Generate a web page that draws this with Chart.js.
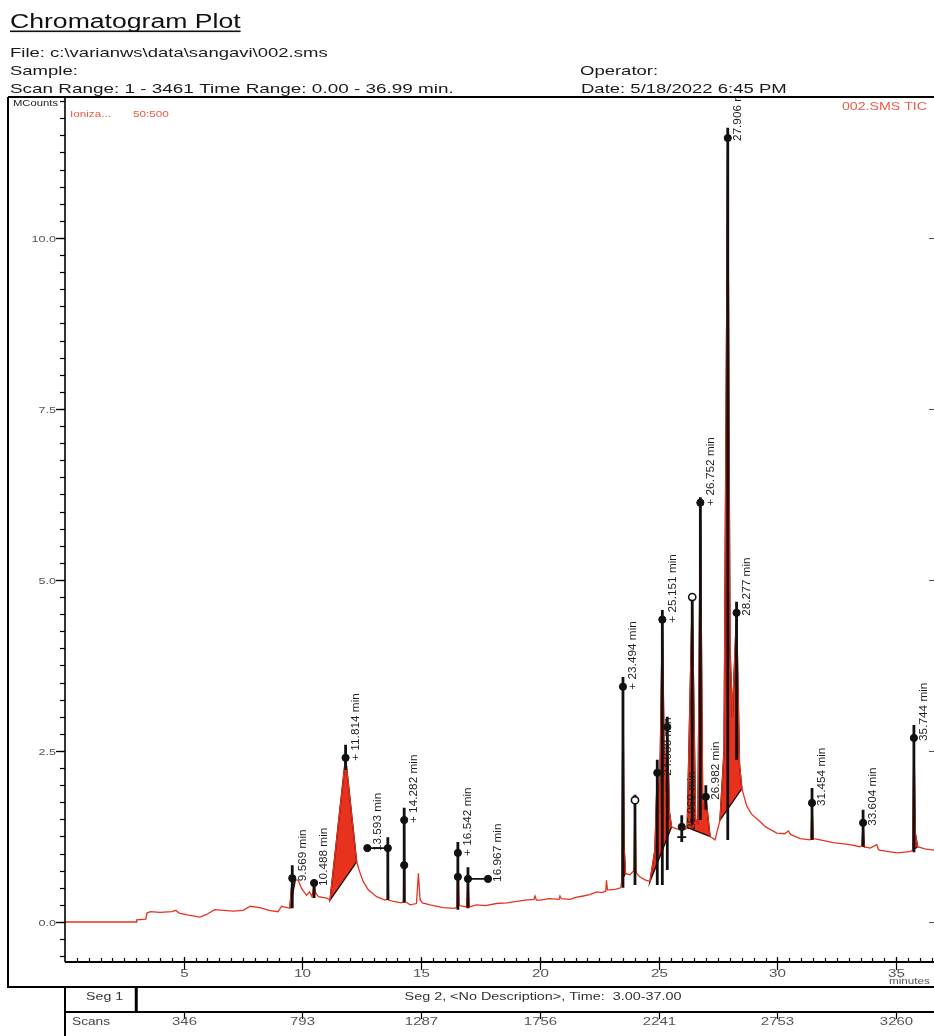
<!DOCTYPE html>
<html><head><meta charset="utf-8">
<script src="https://cdn.jsdelivr.net/npm/chart.js@4.4.1/dist/chart.umd.min.js"></script>
<style>html,body{margin:0;padding:0;background:#fff;overflow:hidden}canvas{display:block}</style>
</head><body>
<canvas id="c" width="934" height="1036"></canvas>
<script>
// ---------- DATA ----------
const timeMin = [
 0.00,3.00,3.02,3.40,3.45,3.60,4.00,4.50,4.67,4.80,
 5.20,5.68,5.96,6.30,6.70,7.07,7.50,7.80,8.20,8.60,
 8.97,9.12,9.47,9.569,9.70,9.82,9.96,10.17,10.30,10.40,
 10.488,10.56,10.67,11.02,11.16,11.814,12.28,12.40,12.56,12.77,
 13.12,13.47,13.56,13.593,13.63,13.82,14.17,14.25,14.282,14.32,
 14.53,14.80,14.88,14.95,15.05,15.37,15.93,16.42,16.50,16.542,
 16.60,16.90,16.967,17.03,17.33,17.70,18.17,18.60,19.02,19.37,
 19.75,19.79,19.85,20.00,20.40,20.80,20.84,20.90,21.26,21.50,
 21.82,22.10,22.39,22.60,22.77,22.80,22.84,22.95,23.20,23.40,
 23.45,23.494,23.54,23.60,23.79,23.95,24.00,24.05,24.20,24.40,
 24.63,24.84,24.938,25.03,25.151,25.25,25.36,25.45,25.54,25.75,
 25.90,25.969,26.10,26.20,26.41,26.55,26.65,26.752,26.85,26.982,
 27.16,27.37,27.58,27.75,27.906,28.00,28.10,28.277,28.40,28.50,
 28.70,28.90,29.26,29.50,29.97,30.30,30.46,30.55,30.95,31.37,
 31.42,31.454,31.50,31.80,32.35,33.05,33.47,33.56,33.604,33.65,
 33.90,34.18,34.25,34.30,35.02,35.58,35.70,35.744,35.80,35.90,
 36.20,36.60];
const mCounts = [
 0.00,0.00,0.03,0.04,0.13,0.15,0.14,0.15,0.17,0.13,
 0.10,0.07,0.11,0.18,0.17,0.16,0.17,0.23,0.21,0.17,
 0.15,0.23,0.20,0.64,0.62,0.61,0.49,0.39,0.44,0.37,
 0.56,0.42,0.37,0.35,0.32,2.40,0.88,0.74,0.59,0.47,
 0.37,0.32,0.33,1.08,0.32,0.30,0.28,0.30,1.49,0.30,
 0.25,0.27,0.71,0.33,0.28,0.25,0.21,0.20,0.22,1.01,
 0.24,0.22,0.63,0.22,0.25,0.24,0.27,0.28,0.30,0.32,
 0.33,0.38,0.32,0.32,0.34,0.33,0.38,0.34,0.33,0.36,
 0.38,0.40,0.44,0.43,0.45,0.61,0.47,0.47,0.48,0.50,
 0.62,3.44,1.10,0.71,0.69,0.75,1.78,0.72,0.66,0.62,
 0.59,1.05,2.18,1.60,4.42,1.90,2.85,1.60,1.39,1.36,
 1.35,1.39,1.35,1.38,4.75,1.50,1.45,6.13,1.70,1.83,
 1.25,1.20,1.49,2.50,11.46,4.00,3.00,4.52,2.30,1.95,
 1.70,1.58,1.47,1.39,1.30,1.29,1.33,1.28,1.22,1.20,
 1.24,1.74,1.22,1.20,1.16,1.13,1.10,1.12,1.45,1.10,
 1.08,1.13,1.06,1.05,1.01,1.03,1.05,2.69,1.30,1.10,
 1.07,1.05];

// integrated peak regions (time range of each red area)
const fillStart = [9.47, 11.16, 23.45, 24.63, 26.20, 27.58, 31.42, 33.56, 35.70];
const fillEnd   = [9.70, 12.28, 23.60, 25.54, 27.16, 28.50, 31.50, 33.65, 35.90];

// peak markers
const peakTime   = [9.569,10.488,11.814,13.593,14.282,16.542,16.967,23.494,24.000,24.938,25.151,25.360,25.969,26.410,26.752,26.982,27.906,28.277,31.454,33.604,35.744];
const peakApex   = [0.64, 0.57, 2.40, 1.08, 1.49, 1.01, 0.63, 3.44, 1.78, 2.18, 4.42, 2.85, 1.39, 4.75, 6.13, 1.83, 11.46, 4.52, 1.74, 1.45, 2.69];
const peakTop    = [0.83, 0.61, 2.59, 1.24, 1.67, 1.17, 0.80, 3.58, 1.86, 2.37, 4.56, 3.00, 1.56, 4.80, 6.21, 2.00, 11.61, 4.68, 1.96, 1.64, 2.88];
const peakBottom = [0.20, 0.35, 2.22, 0.32, 0.28, 0.18, 0.20, 0.50, 0.54, 0.54, 0.54, 0.76, 1.17, 1.42, 1.49, 1.64, 1.20, 2.37, 1.20, 1.10, 1.02];
const peakLabel  = ['9.569 min','10.488 min','+ 11.814 min','13.593 min','+ 14.282 min','+ 16.542 min','16.967 min','+ 23.494 min','','24.938 min','+ 25.151 min','','25.969 min','','+ 26.752 min','26.982 min','27.906 min','28.277 min','31.454 min','33.604 min','35.744 min'];
const peakMarker = ['dot','dot','dot','dot','dot','dot','dot','dot','open','dot','dot','dot','dot','open','dot','dot','dot','dot','dot','dot','dot'];
const peakLeaderTo = [null,null,null,12.73,null,null,17.81,null,null,null,null,null,null,null,null,null,null,null,null,null,null];
const extraMarkTime  = [14.282, 16.542];
const extraMarkValue = [0.83, 0.66];
const crossMarkTime  = [25.969];
const crossMarkValue = [1.24];

// axis ticks
const xTickValues = [5,10,15,20,25,30,35];
const xTickLabels = ['5','10','15','20','25','30','35'];
const yTickValues = [0,2.5,5,7.5,10];
const yTickLabels = ['0.0','2.5','5.0','7.5','10.0'];
const scanLabels  = ['346','793','1287','1756','2241','2753','3260'];
const segBoundary = 3.0;

// ---------- RENDER ----------
const FONT = '"Liberation Sans", Arial, Helvetica, sans-serif';
const RED = '#e8321e';
function hText(ctx, s, x, y, size, color, align, sx) {
  ctx.save();
  ctx.font = size + 'px ' + FONT;
  ctx.fillStyle = color;
  ctx.textBaseline = 'alphabetic';
  ctx.textAlign = 'left';
  const w = ctx.measureText(s).width * sx;
  const x0 = align === 'center' ? x - w / 2 : align === 'right' ? x - w : x;
  ctx.translate(x0, y);
  ctx.scale(sx, 1);
  ctx.fillText(s, 0, 0);
  ctx.restore();
  return w;
}
function line(ctx, x1, y1, x2, y2, w, c) {
  ctx.save(); ctx.beginPath(); ctx.lineWidth = w; ctx.strokeStyle = c || '#000';
  ctx.moveTo(x1, y1); ctx.lineTo(x2, y2); ctx.stroke(); ctx.restore();
}

const tracePts = timeMin.map((t, i) => ({x: t, y: mCounts[i]}));
const linePts = [];
peakTime.forEach((t, i) => {
  linePts.push({x: t, y: peakBottom[i]}, {x: t, y: peakTop[i]}, {x: t, y: null});
});
const leaderPts = [];
const dotPts = [], openPts = [];
peakTime.forEach((t, i) => {
  (peakMarker[i] === 'open' ? openPts : dotPts).push({x: t, y: peakApex[i]});
  if (peakLeaderTo[i] != null) {
    leaderPts.push({x: t, y: peakApex[i]}, {x: peakLeaderTo[i], y: peakApex[i]}, {x: t, y: null});
    dotPts.push({x: peakLeaderTo[i], y: peakApex[i]});
  }
});
extraMarkTime.forEach((t, i) => dotPts.push({x: t, y: extraMarkValue[i]}));
const crossPts = crossMarkTime.map((t, i) => ({x: t, y: crossMarkValue[i]}));

const fillPlugin = {
  id: 'peakFill',
  beforeDatasetsDraw(chart) {
    const {ctx, chartArea: a, scales: {x, y}} = chart;
    ctx.save();
    ctx.beginPath(); ctx.rect(a.left, a.top, a.right - a.left, a.bottom - a.top); ctx.clip();
    fillStart.forEach((s, k) => {
      const e = fillEnd[k];
      const pts = [];
      timeMin.forEach((t, i) => { if (t >= s - 1e-9 && t <= e + 1e-9) pts.push([x.getPixelForValue(t), y.getPixelForValue(mCounts[i])]); });
      if (pts.length < 2) return;
      ctx.beginPath();
      ctx.moveTo(pts[0][0], pts[0][1]);
      pts.slice(1).forEach(p => ctx.lineTo(p[0], p[1]));
      ctx.closePath();
      ctx.fillStyle = RED; ctx.fill();
      ctx.lineWidth = 1.4; ctx.strokeStyle = '#2a0805'; ctx.stroke();
    });
    ctx.restore();
  }
};

const decorPlugin = {
  id: 'decor',
  afterDatasetsDraw(chart) {
    const {ctx, chartArea: a, scales: {x, y}} = chart;
    ctx.save();
    ctx.beginPath(); ctx.rect(a.left, a.top, a.right - a.left, a.bottom - a.top); ctx.clip();
    ctx.fillStyle = '#1e1e1e';
    ctx.font = '11.8px ' + FONT;
    ctx.textBaseline = 'middle'; ctx.textAlign = 'left';
    peakTime.forEach((t, i) => {
      if (!peakLabel[i]) return;
      const ax = x.getPixelForValue(peakLeaderTo[i] != null ? peakLeaderTo[i] : t);
      const ay = y.getPixelForValue(peakApex[i]);
      ctx.save();
      ctx.translate(ax + 10, ay + 3);
      ctx.rotate(-Math.PI / 2);
      ctx.fillText(peakLabel[i], 0, 0);
      ctx.restore();
    });
    ctx.restore();
  },
  afterDraw(chart) {
    const {ctx, chartArea: a, scales: {x, y}} = chart;
    const W = chart.width;
    // header
    const tw = hText(ctx, 'Chromatogram Plot', 10, 28, 20, '#111', 'left', 1.33);
    ctx.fillStyle = '#111'; ctx.fillRect(10, 30.5, tw, 1.6);
    hText(ctx, 'File: c:\\varianws\\data\\sangavi\\002.sms', 10, 57, 13.5, '#1a1a1a', 'left', 1.37);
    hText(ctx, 'Sample:', 10, 75, 13.5, '#1a1a1a', 'left', 1.37);
    hText(ctx, 'Scan Range: 1 - 3461 Time Range: 0.00 - 36.99 min.', 10, 92.5, 13.5, '#1a1a1a', 'left', 1.4);
    hText(ctx, 'Operator:', 580, 75, 13.5, '#1a1a1a', 'left', 1.37);
    hText(ctx, 'Date: 5/18/2022 6:45 PM', 581, 92.5, 13.5, '#1a1a1a', 'left', 1.37);
    // outer frame
    line(ctx, 8, a.top, W, a.top, 2);
    line(ctx, 8, a.top, 8, 988, 2);
    line(ctx, 8, 987, W, 987, 2.2);
    // axes
    line(ctx, a.left, a.top, a.left, a.bottom, 1.6);
    line(ctx, a.left, a.bottom, a.right, a.bottom, 2);
    // y ticks
    for (let v = -0.5; v <= 12.0001; v += 0.25) {
      const py = Math.round(y.getPixelForValue(v)) + 0.5;
      line(ctx, a.left - 5, py, a.left, py, 1.2);
    }
    yTickValues.forEach((v, i) => {
      const py = Math.round(y.getPixelForValue(v)) + 0.5;
      line(ctx, a.left - 9, py, a.left, py, 1.3);
      hText(ctx, yTickLabels[i], a.left - 9, py + 3.5, 9, '#555', 'right', 1.4);
      line(ctx, W - 5, py, W, py, 1, '#555');
    });
    // x ticks
    for (let t = 0.5; t <= 36.6; t += 0.5) {
      const px = Math.round(x.getPixelForValue(t)) + 0.5;
      line(ctx, px, a.bottom - 4, px, a.bottom + 1, 1.2);
    }
    xTickValues.forEach((t, i) => {
      const px = Math.round(x.getPixelForValue(t)) + 0.5;
      line(ctx, px, a.bottom - 5, px, a.bottom + 8, 1.2);
      hText(ctx, xTickLabels[i], px, 977, 11, '#555', 'center', 1.38);
    });
    hText(ctx, 'minutes', 889, 984, 9, '#555', 'left', 1.3);
    // labels inside plot
    hText(ctx, 'MCounts', 13, 106, 9, '#222', 'left', 1.25);
    hText(ctx, 'Ioniza...', 70, 117, 9, '#ee5a48', 'left', 1.3);
    hText(ctx, '50:500', 133, 117, 9, '#ee5a48', 'left', 1.3);
    hText(ctx, '002.SMS TIC', 927, 110, 10.5, '#ee5a48', 'right', 1.35);
    // segment bar
    const xs = x.getPixelForValue(segBoundary);
    line(ctx, a.left, 987, a.left, 1036, 2);
    line(ctx, xs, 987, xs, 1012, 3);
    line(ctx, a.left, 1012, W, 1012, 2.2);
    hText(ctx, 'Seg 1', (a.left + xs) / 2 + 4, 1000, 10.5, '#333', 'center', 1.35);
    hText(ctx, 'Seg 2, <No Description>, Time:  3.00-37.00', 543, 1000, 10.5, '#333', 'center', 1.37);
    hText(ctx, 'Scans', 72, 1025, 10, '#444', 'left', 1.37);
    xTickValues.forEach((t, i) => {
      const px = Math.round(x.getPixelForValue(t)) + 0.5;
      line(ctx, px, 1012, px, 1019, 1.2);
      hText(ctx, scanLabels[i], px, 1025, 11, '#555', 'center', 1.36);
    });
  }
};

new Chart(document.getElementById('c'), {
  type: 'line',
  data: {
    datasets: [
      {type: 'scatter', data: crossPts, pointStyle: 'cross', pointRadius: 4.5, borderColor: '#111', borderWidth: 1.6, backgroundColor: '#111'},
      {type: 'scatter', data: dotPts, pointStyle: 'circle', pointRadius: 3.6, borderColor: '#111', backgroundColor: '#111', borderWidth: 1},
      {type: 'scatter', data: openPts, pointStyle: 'circle', pointRadius: 3.6, borderColor: '#111', backgroundColor: '#fff', borderWidth: 1.6},
      {data: leaderPts, borderColor: '#111', borderWidth: 1.6, pointRadius: 0, spanGaps: false, tension: 0},
      {data: linePts, borderColor: '#111', borderWidth: 2.8, pointRadius: 0, spanGaps: false, tension: 0},
      {data: tracePts, borderColor: RED, borderWidth: 1.3, pointRadius: 0, tension: 0, fill: false}
    ]
  },
  options: {
    responsive: false, animation: false, events: [],
    devicePixelRatio: 1,
    layout: {autoPadding: false, padding: {left: 65, top: 97, right: 0, bottom: 74}},
    scales: {
      x: {type: 'linear', min: 0, max: 36.59, display: false},
      y: {type: 'linear', min: -0.585, max: 12.06, display: false}
    },
    plugins: {legend: {display: false}, tooltip: {enabled: false}}
  },
  plugins: [fillPlugin, decorPlugin]
});
</script></body></html>
